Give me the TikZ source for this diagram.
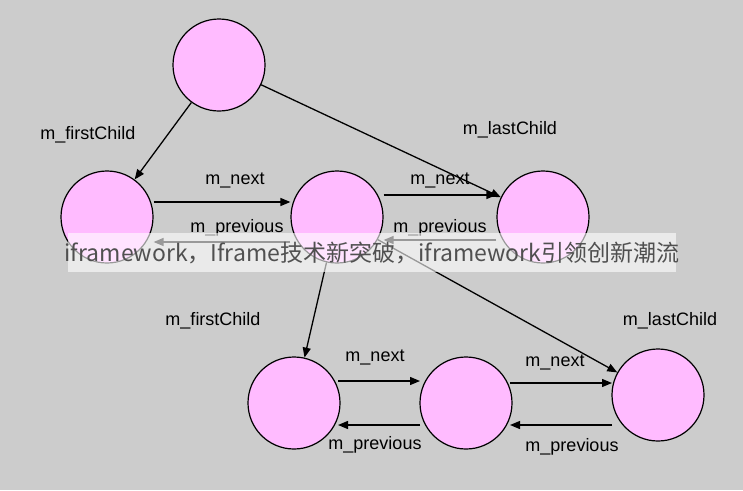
\documentclass[tikz,border=0pt]{standalone}
\usepackage{fontspec}
\setmainfont{Liberation Sans}
\newfontfamily\cjk{Noto Sans CJK SC}
\usetikzlibrary{arrows.meta}
\definecolor{bgc}{RGB}{204,204,204}
\definecolor{pinkc}{RGB}{255,187,255}
\definecolor{wmc}{RGB}{80,80,80}
\begin{document}
\begin{tikzpicture}[x=1pt,y=-1pt,
  nd/.style={circle,draw=black,line width=1.2pt,fill=pinkc,minimum size=92pt,inner sep=0pt},
  ar/.style={-{Triangle[length=10pt,width=8pt]},line width=1.3pt},
  lb/.style={font=\fontsize{18}{20}\selectfont}]
\fill[bgc] (0,0) rectangle (743,490);
\useasboundingbox (0,0) rectangle (743,490);
\node[nd] (r) at (219,65) {};
\node[nd] (a) at (107,217) {};
\node[nd] (b) at (337,217) {};
\node[nd] (c) at (543,217) {};
\node[nd] (d) at (294,403) {};
\node[nd] (e) at (466,403) {};
\node[nd] (f) at (658,395) {};
\draw[ar] (r) -- (a);
\draw[ar] (r) -- (c);
\draw[ar] (a.east|-0,202) -- (b.west|-0,202);
\draw[ar] (b.west|-0,242) -- (a.east|-0,242);
\draw[ar] (b.east|-0,195) -- (c.west|-0,195);
\draw[ar] (c.west|-0,240) -- (b.east|-0,240);
\draw[ar] (b) -- (d);
\draw[ar] (b) -- (f);
\draw[ar] (338,381) -- (420,381);
\draw[ar] (420,425) -- (338,425);
\draw[ar] (510,383) -- (612,383);
\draw[ar] (612,425) -- (510,425);
\node[lb] (l1) at (88,135) {m\_firstChild};
\node[lb] (l2) at (510,130) {m\_lastChild};
\node[lb] (l3) at (235,180) {m\_next};
\node[lb] (l4) at (237,228) {m\_previous};
\node[lb] (l5) at (440,180) {m\_next};
\node[lb] (l6) at (440,228) {m\_previous};
\node[lb] (l7) at (213,321) {m\_firstChild};
\node[lb] (l8) at (670,321) {m\_lastChild};
\node[lb] (l9) at (375,357) {m\_next};
\node[lb] (l10) at (375,445) {m\_previous};
\node[lb] (l11) at (555,362) {m\_next};
\node[lb] (l12) at (572,447) {m\_previous};
\fill[white,opacity=0.6] (68,233) rectangle (676,272);
\node[text=wmc,font=\cjk\fontsize{23}{26}\selectfont] (wm) at (372,253) {iframework，Iframe技术新突破，iframework引领创新潮流};
\end{tikzpicture}
\end{document}
